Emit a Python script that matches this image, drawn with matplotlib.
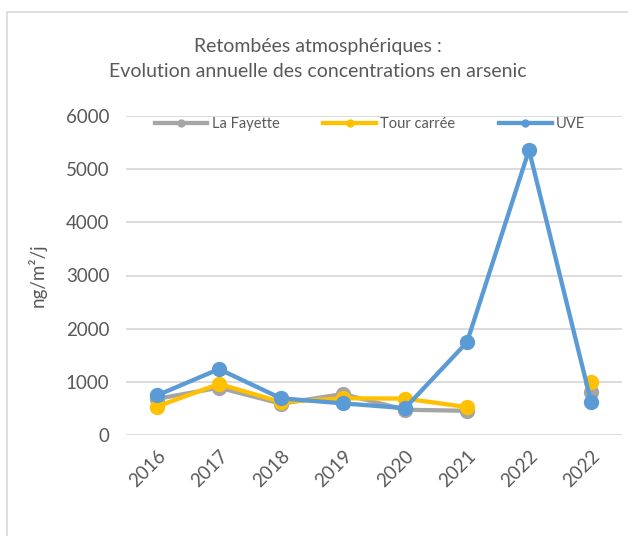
import numpy as np
import matplotlib.pyplot as plt
from matplotlib.patches import Rectangle

plt.rcParams['font.family'] = ['Lato', 'DejaVu Sans']

years = ["2016", "2017", "2018", "2019", "2020", "2021", "2022", "2022"]
la_fayette = [680, 890, 590, 770, 475, 455, np.nan, 810]
tour_carree = [535, 960, 620, 690, 685, 525, np.nan, 1005]
uve = [745, 1240, 690, 595, 505, 1745, 5360, 630]

fig = plt.figure(figsize=(6.28, 5.36), dpi=100)
ax = fig.add_axes([126 / 628, (536 - 435) / 536, (622 - 126) / 628, (435 - 116) / 536])

# outer chart frame
fig.patches.append(Rectangle((7 / 628, -0.1), 1.2, (536 - 12) / 536 + 0.1,
                             transform=fig.transFigure, fill=False,
                             edgecolor="#D9D9D9", linewidth=1.2))

x = np.arange(len(years))
ax.plot(x, la_fayette, color="#A5A5A5", lw=3.1, marker="o", ms=10, label="La Fayette")
ax.plot(x, tour_carree, color="#FFC000", lw=3.1, marker="o", ms=10, label="Tour carrée")
ax.plot(x, uve, color="#5B9BD5", lw=3.1, marker="o", ms=10, label="UVE")

ax.set_xlim(-0.5, len(years) - 0.5)
ax.set_ylim(0, 6000)
ax.set_yticks(range(0, 6001, 1000))
ax.set_xticks(x)
ax.set_xticklabels(years, rotation=45, ha="right", rotation_mode="anchor")
ax.tick_params(axis="x", length=0, pad=9, labelsize=13.5, colors="#595959")
ax.tick_params(axis="y", length=0, pad=12, labelsize=13.5, colors="#595959")
ax.grid(axis="y", color="#D9D9D9", lw=1.3)
ax.set_axisbelow(True)
for s in ax.spines.values():
    s.set_visible(False)

ax.set_ylabel("ng/m²/j", fontsize=13.5, color="#595959", labelpad=14)

fig.text(318 / 628, 1 - 59 / 536, "Retombées atmosphériques :\nEvolution annuelle des concentrations en arsenic",
         ha="center", va="center", fontsize=14, color="#595959", linespacing=1.55)

leg_handles = [
    plt.Line2D([], [], color="#A5A5A5", lw=3.1, marker="o", ms=5),
    plt.Line2D([], [], color="#FFC000", lw=3.1, marker="o", ms=5),
    plt.Line2D([], [], color="#5B9BD5", lw=3.1, marker="o", ms=5),
]
fig.legend(leg_handles, ["La Fayette", "Tour carrée", "UVE"], loc="center",
           bbox_to_anchor=(370 / 628, 1 - 124 / 536), ncol=3, frameon=False,
           fontsize=10.5, labelcolor="#595959", handlelength=3.6, columnspacing=3.0,
           handletextpad=0.3)

fig.savefig("out.png", dpi=100)
